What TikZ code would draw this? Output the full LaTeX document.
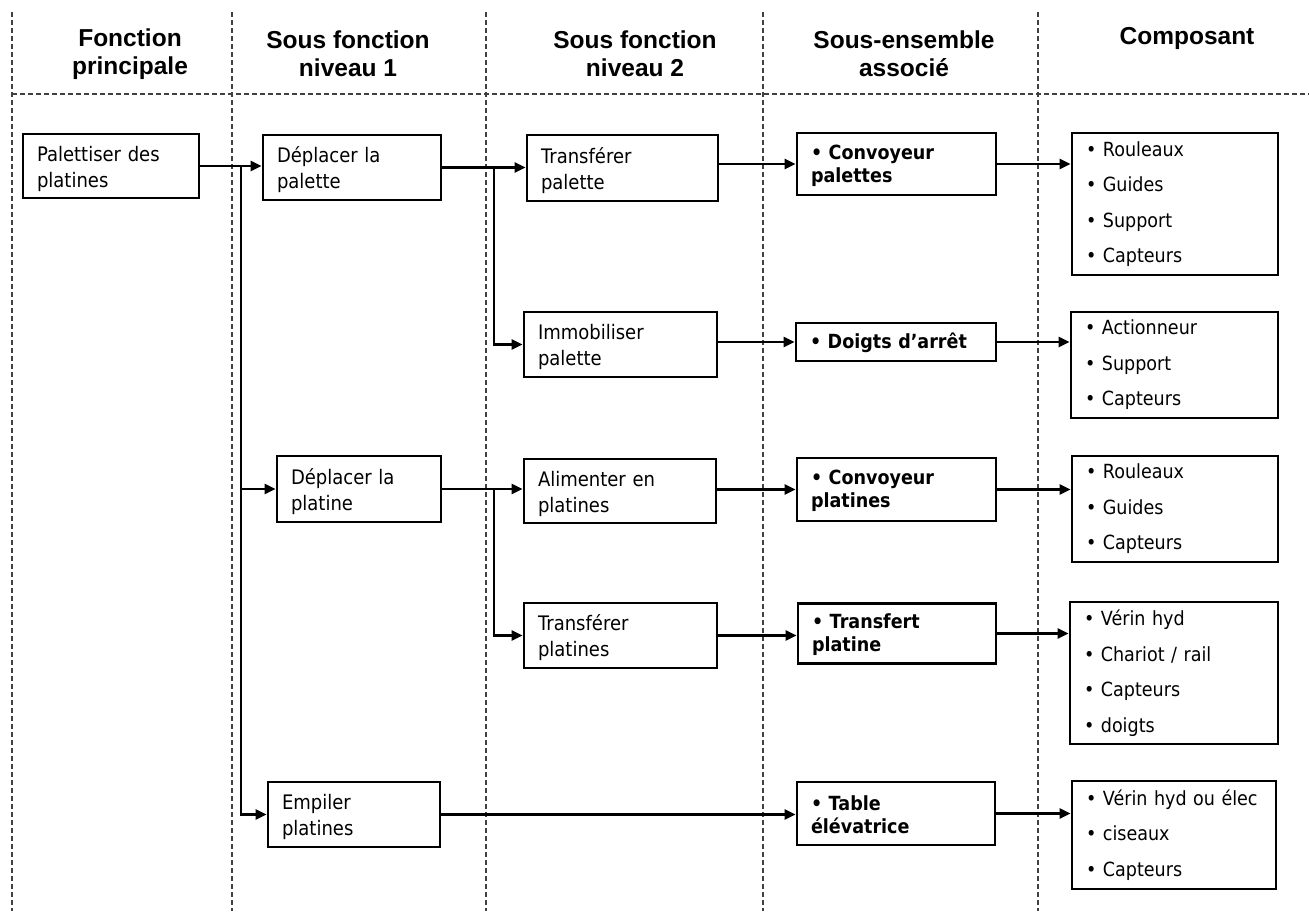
\documentclass[tikz,border=0pt]{standalone}
\usepackage{fontspec}
\setmainfont{DejaVu Sans}
\newfontfamily\hdfont{Liberation Sans}
\newfontfamily\bodyfont[FakeStretch=0.9]{DejaVu Sans}
\usetikzlibrary{arrows.meta}
\begin{document}
\begin{tikzpicture}[x=1pt,y=-1pt,
  hd/.style={font=\hdfont\bfseries\fontsize{24.5}{28}\selectfont, align=center, inner sep=0pt},
  sep/.style={draw=black!75, line width=1.1pt, dash pattern=on 5pt off 3pt},
  box/.style={draw, line width=2.8pt, inner xsep=14pt, inner ysep=0pt, align=left, font=\bodyfont\fontsize{20}{26}\selectfont, execute at begin node={\rule{0pt}{21pt}}},
  sbox/.style={draw, line width=2.8pt, inner xsep=14pt, inner ysep=0pt, align=left, font=\bodyfont\bfseries\fontsize{19.5}{23}\selectfont, execute at begin node={\rule{0pt}{18pt}}},
  cbox/.style={draw, line width=2.8pt, inner xsep=14pt, inner ysep=0pt, align=left, font=\bodyfont\fontsize{19.5}{35.5}\selectfont},
  arr/.style={line width=2.3pt, -{Triangle[length=11pt,width=10pt]}}]
\useasboundingbox (0,0) rectangle (1309,911);
\fill[white] (0,0) rectangle (1309,911);

% separators
\foreach \x in {12,232,486,763,1038}{\draw[sep] (\x,12) -- (\x,911);}
\draw[sep] (12,94) -- (1309,94);

% headers
\node[hd] (h1) at (130,54) {Fonction\\principale};
\node[hd] (h2) at (348,54) {Sous fonction\\niveau 1};
\node[hd] (h3) at (635,54) {Sous fonction\\niveau 2};
\node[hd] (h4) at (904,54) {Sous-ensemble\\associé};
\node[hd] (h5) at (1187,38) {Composant};

% column 1-3
\node[box, text width=148pt, minimum height=64pt] (pal) at (111,166) {Palettiser des\\platines};
\node[box, text width=150pt, minimum height=65pt] (dpal) at (352,167.5) {Déplacer la\\palette};
\node[box, text width=136pt, minimum height=66pt] (dplat) at (359,489) {Déplacer la\\platine};
\node[box, text width=144pt, minimum height=65pt] (empil) at (354,814.5) {Empiler\\platines};
\node[box, text width=163pt, minimum height=66pt] (tpal) at (622.5,168) {Transférer\\palette};
\node[box, text width=165pt, minimum height=65pt] (immo) at (620.5,344.5) {Immobiliser\\palette};
\node[box, text width=164pt, minimum height=64pt] (alim) at (620,491) {Alimenter en\\platines};
\node[box, text width=165pt, minimum height=65pt] (tplat) at (620.5,635.5) {Transférer\\platines};

% sous-ensembles
\node[sbox, text width=171pt, minimum height=62pt] (conv1) at (896.5,164) {• Convoyeur\\palettes};
\node[sbox, text width=172pt, minimum height=38pt] (doigts) at (896,342) {• Doigts d’arrêt};
\node[sbox, text width=171pt, minimum height=63pt] (conv2) at (896.5,489.5) {• Convoyeur\\platines};
\node[sbox, text width=170pt, minimum height=60pt] (transf) at (897,633.5) {• Transfert\\platine};
\node[sbox, text width=170pt, minimum height=63pt] (table) at (896,813.5) {• Table\\élévatrice};

% composants
\node[cbox, text width=178pt, minimum height=142pt] (c1) at (1175,204) {• Rouleaux\\• Guides\\• Support\\• Capteurs};
\node[cbox, text width=179pt, minimum height=106pt] (c2) at (1174.5,365) {• Actionneur\\• Support\\• Capteurs};
\node[cbox, text width=178pt, minimum height=106pt] (c3) at (1175,509) {• Rouleaux\\• Guides\\• Capteurs};
\node[cbox, text width=180pt, minimum height=142pt] (c4) at (1174,673) {• Vérin hyd\\• Chariot / rail\\• Capteurs\\• doigts};
\node[cbox, text width=176pt, minimum height=108pt] (c5) at (1174,835) {• Vérin hyd ou élec\\• ciseaux\\• Capteurs};

% connectors
\coordinate (tA) at (241,166);
\coordinate (tB) at (494,167.5);
\draw[arr] (pal.east) -- (pal.east -| dpal.west);
\draw[arr] (tA) |- (empil.west);
\draw[arr] (tA |- dplat.west) -- (dplat.west);

\draw[arr] (dpal.east) -- (dpal.east -| tpal.west);
\draw[arr] (dpal.east -| tB) |- (immo.west);
\draw[arr] (tpal.east |- conv1.west) -- (conv1.west);
\draw[arr] (conv1.east) -- (conv1.east -| c1.west);
\draw[arr] (immo.east |- doigts.west) -- (doigts.west);
\draw[arr] (doigts.east) -- (doigts.east -| c2.west);

\draw[arr] (dplat.east) -- (dplat.east -| alim.west);
\draw[arr] (dplat.east -| tB) |- (tplat.west);
\draw[arr] (alim.east |- conv2.west) -- (conv2.west);
\draw[arr] (conv2.east) -- (conv2.east -| c3.west);
\draw[arr] (tplat.east) -- (tplat.east -| transf.west);
\draw[arr] (transf.east) -- (transf.east -| c4.west);
\draw[arr] (empil.east) -- (empil.east -| table.west);
\draw[arr] (table.east) -- (table.east -| c5.west);
\end{tikzpicture}
\end{document}
